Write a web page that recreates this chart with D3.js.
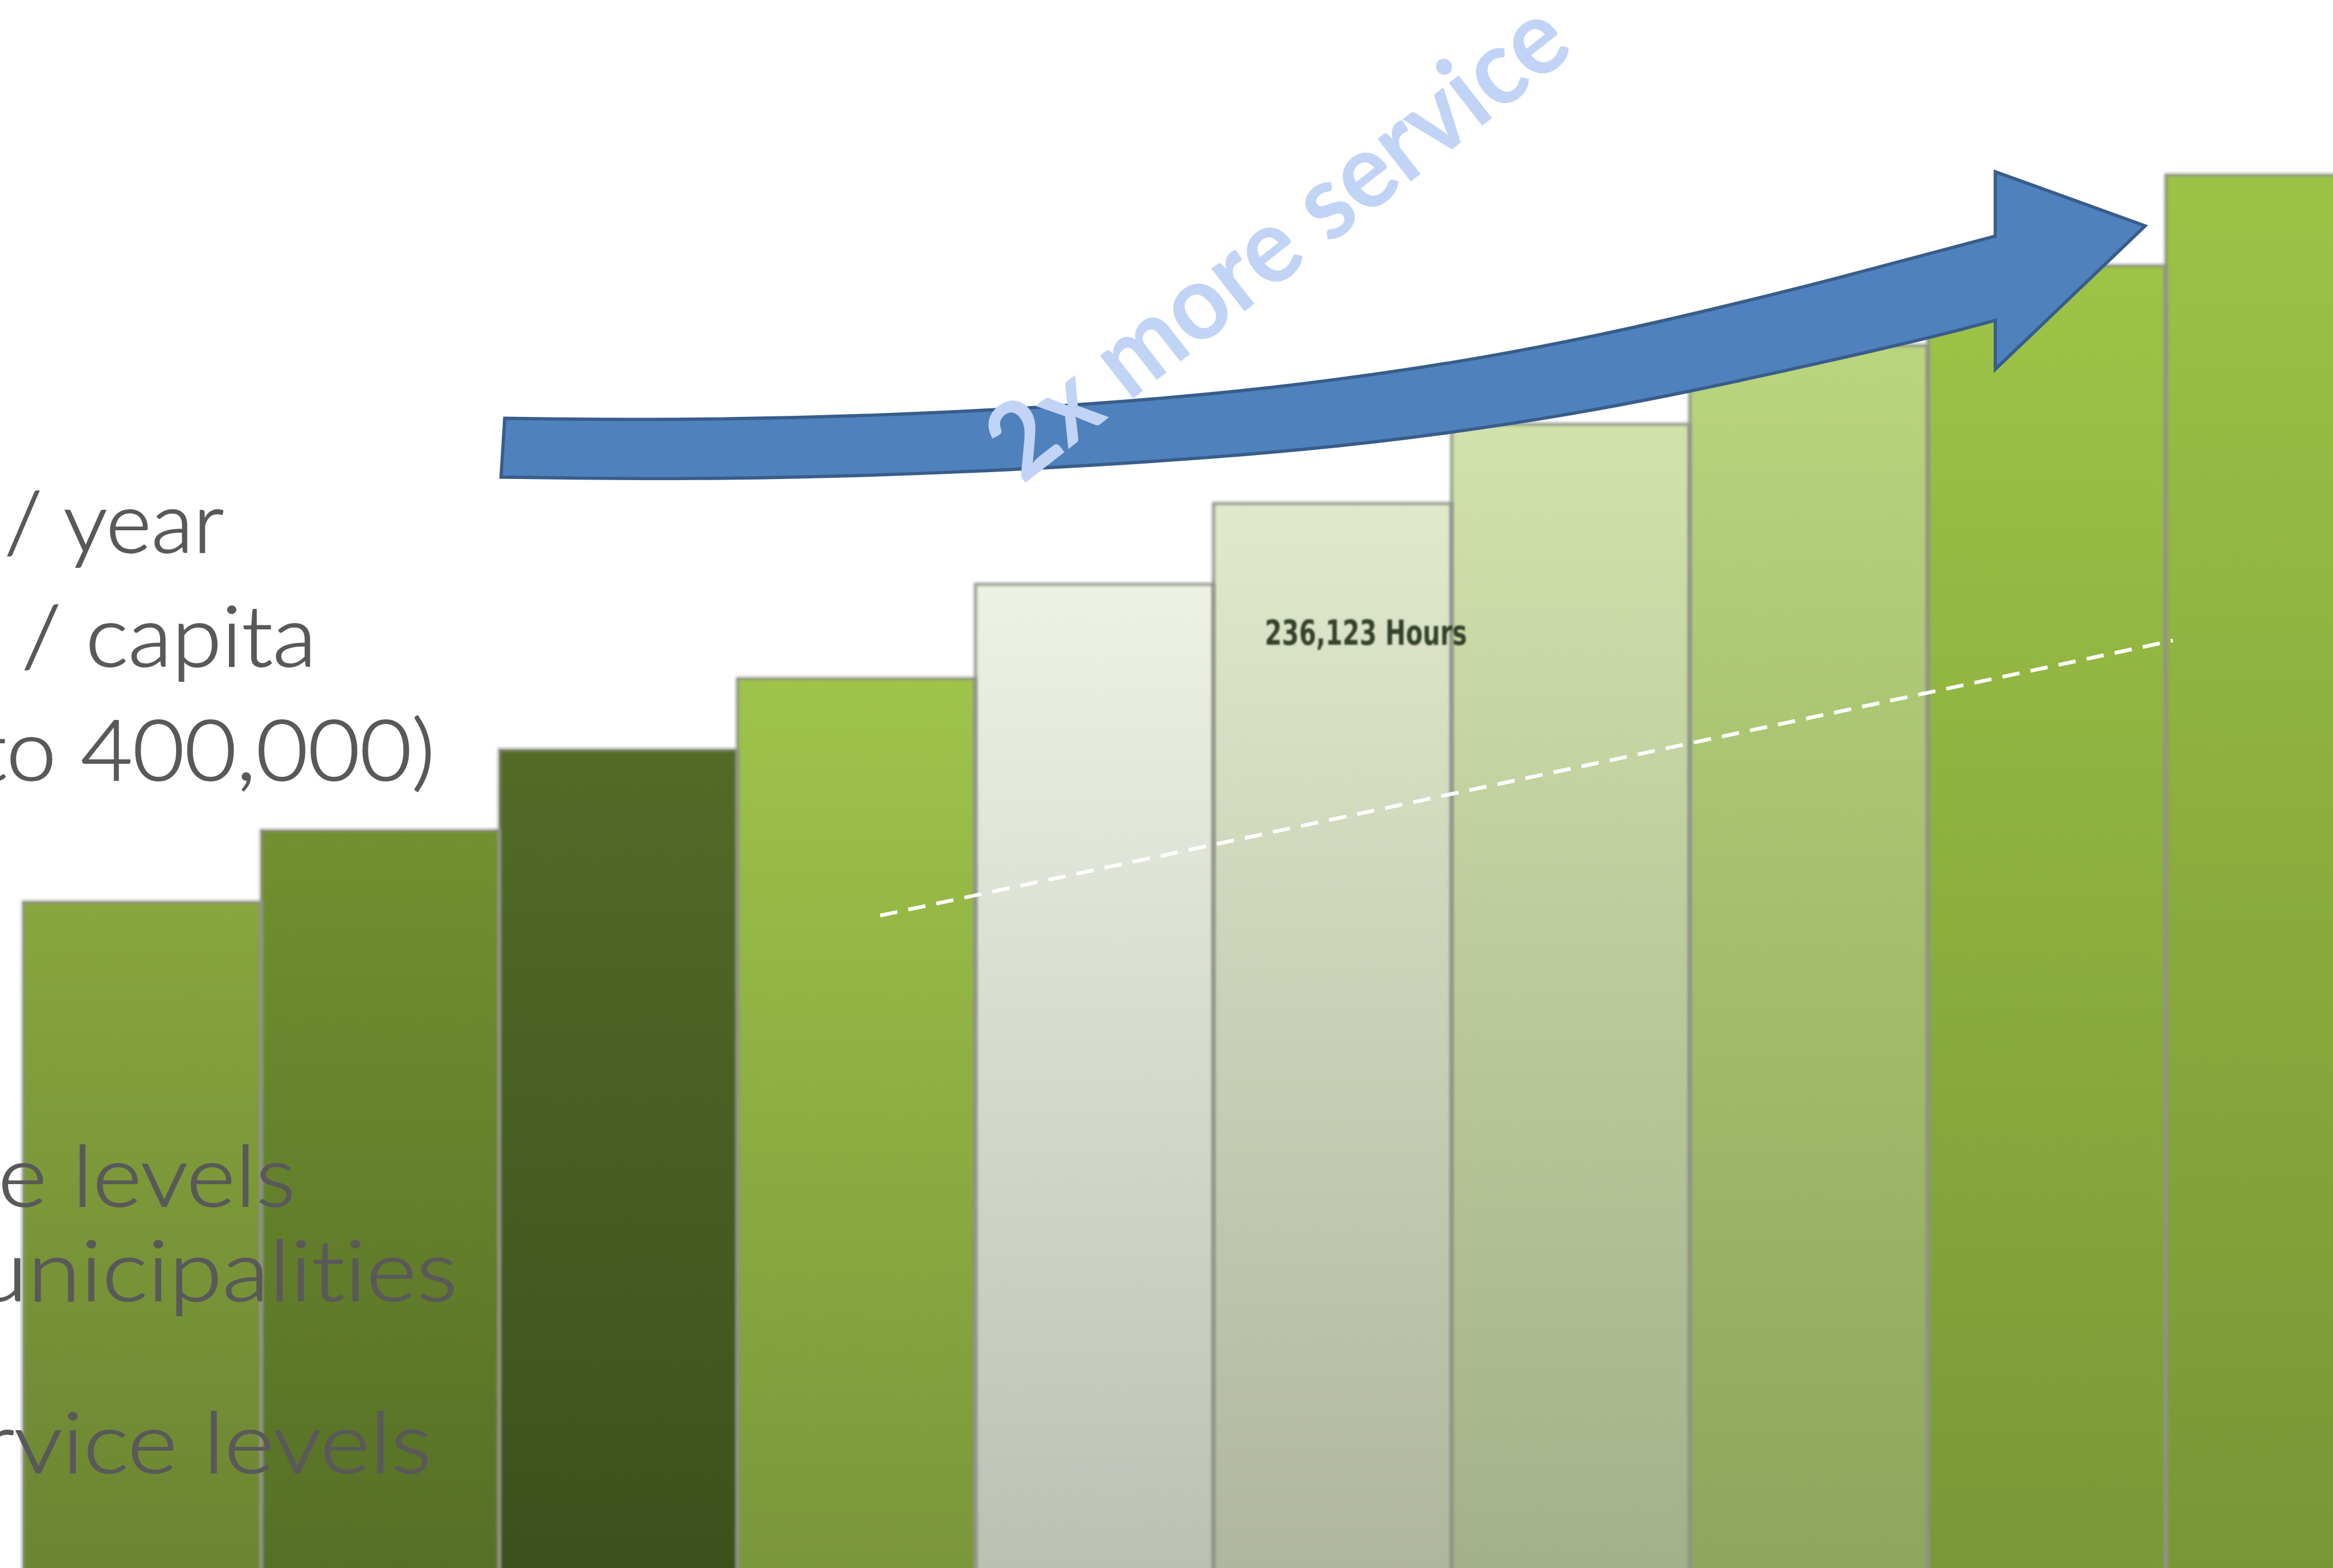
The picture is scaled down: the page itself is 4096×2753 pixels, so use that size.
<!DOCTYPE html>
<html>
<head>
<meta charset="utf-8">
<script src="https://cdn.jsdelivr.net/npm/d3@7"></script>
<style>
  html, body { margin: 0; padding: 0; background: #ffffff; overflow: hidden; }
  svg { display: block; }
  text { font-variant-ligatures: none; font-feature-settings: "liga" 0, "clig" 0; }
</style>
</head>
<body>
<svg id="chart"></svg>
<script>
// ---------------- DATA ----------------
const categories = ["P1", "P2", "P3", "P4", "P5", "P6", "P7", "P8", "P9", "P10"];
const hours = [147700, 163600, 181500, 197300, 218200, 236123, 253700, 271200, 288900, 309000];
const labelIndex = 5;
const labelText = "236,123 Hours";
// dashed trend line (index position along the bars, value)
const trendIndex = [3.6, 9.03];
const trendValue = [144700, 205700];
const textTop = ["/ year", "/ capita", "to 400,000)"];
const textBottom = ["e levels", "unicipalities", "rvice levels"];
const arrowText = "2x more service";

// ---------------- STYLE ----------------
const topColors = ["#88a63e", "#72902f", "#536a27", "#9fc44a", "#eef2e6", "#e1e9cd", "#d2e2ab", "#b9d57d", "#9dc446", "#9cc346"];
const bottomColors = ["#6b8431", "#566f27", "#3d501c", "#7a963a", "#bbc0b5", "#b0b69c", "#a3b08a", "#8ea55d", "#799837", "#789636"];

const W = 5043, H = 3389;
const svg = d3.select("#chart")
  .attr("width", 4096).attr("height", 2753)
  .attr("viewBox", `0 0 ${W} ${H}`);

const defs = svg.append("defs");
const blur = defs.append("filter").attr("id", "soft").attr("x", "-5%").attr("y", "-5%").attr("width", "110%").attr("height", "110%");
blur.append("feGaussianBlur").attr("stdDeviation", 3);
const blur2 = defs.append("filter").attr("id", "softText");
blur2.append("feGaussianBlur").attr("stdDeviation", 1.8);

categories.forEach((c, i) => {
  const g = defs.append("linearGradient").attr("id", "grad" + i)
    .attr("x1", 0).attr("y1", 0).attr("x2", 0).attr("y2", 1);
  g.append("stop").attr("offset", "0%").attr("stop-color", topColors[i]);
  g.append("stop").attr("offset", "100%").attr("stop-color", bottomColors[i]);
});

// ---------------- SCALES ----------------
const step = 514.6;
const x = d3.scaleBand().domain(categories).range([50, 50 + step * categories.length]).padding(0);
const xi = d3.scaleLinear().domain([0, categories.length]).range(x.range());
const y = d3.scaleLinear().domain([0, 300000]).range([H, H - 300000 / 102.617]);

// ---------------- BARS ----------------
const bars = svg.append("g");
bars.selectAll("rect.bar").data(hours).join("rect").attr("class", "bar")
  .attr("x", (d, i) => x(categories[i]))
  .attr("y", d => y(d))
  .attr("width", x.bandwidth())
  .attr("height", d => y(0) - y(d) + 20)
  .attr("fill", (d, i) => `url(#grad${i})`);

bars.selectAll("rect.edge").data(hours).join("rect").attr("class", "edge")
  .attr("x", (d, i) => x(categories[i]))
  .attr("y", d => y(d))
  .attr("width", x.bandwidth())
  .attr("height", d => y(0) - y(d) + 20)
  .attr("fill", "none")
  .attr("stroke", "#8f9288")
  .attr("stroke-width", 6)
  .attr("filter", "url(#soft)");

// value label
svg.append("text")
  .attr("x", x(categories[labelIndex]) + 111)
  .attr("y", y(hours[labelIndex]) + 305)
  .attr("font-family", "'Liberation Sans Narrow', 'DejaVu Sans Condensed', 'Liberation Sans', sans-serif")
  .attr("font-size", 74)
  .attr("font-weight", 700)
  .attr("textLength", 437)
  .attr("lengthAdjust", "spacingAndGlyphs")
  .attr("fill", "#36422c")
  .attr("filter", "url(#softText)")
  .text(labelText);

// dashed trend line
svg.append("path")
  .datum(trendIndex.map((t, i) => [t, trendValue[i]]))
  .attr("d", d3.line().x(d => xi(d[0])).y(d => y(d[1])))
  .attr("fill", "none")
  .attr("stroke", "#ffffff")
  .attr("stroke-width", 8)
  .attr("stroke-dasharray", "38 24");

// ---------------- LEFT TEXT ----------------
const leftFont = "Lato, 'Open Sans', sans-serif";
const topLayout = [{x: 10, yb: 1194, w: 474}, {x: 47, yb: 1440, w: 637}, {x: -52, yb: 1686, w: 992}];
const botLayout = [{x: -4, yb: 2608, w: 643}, {x: -55, yb: 2812, w: 1044}, {x: -42, yb: 3184, w: 975}];
const leftG = svg.append("g")
  .attr("font-family", leftFont)
  .attr("font-weight", 300)
  .attr("font-size", 182)
  .attr("fill", "#595959")
  .attr("stroke", "#595959")
  .attr("stroke-width", 2.5);
textTop.concat(textBottom).forEach((t, i) => {
  const L = topLayout.concat(botLayout)[i];
  leftG.append("text")
    .attr("x", L.x).attr("y", L.yb)
    .attr("textLength", L.w)
    .attr("lengthAdjust", "spacingAndGlyphs")
    .text(t);
});

// ---------------- ARROW (annotation shape, reference pixel frame) ----------------
const arrowTopEdge = [[1091, 904], [1478, 909], [2050, 895], [2700, 850], [3232, 772], [3600, 694], [3968, 603], [4313, 510]];
const arrowBottomEdge = [[1083, 1031], [1478, 1037], [2050, 1025], [2754, 982], [3135, 936], [3400, 895], [3655, 846], [3968, 777], [4200, 723], [4313, 692]];
const arrowHead = [[4313, 510], [4313, 371], [4637, 488], [4313, 798], [4313, 692]];
const edge = d3.line().curve(d3.curveBasis);
const topD = edge(arrowTopEdge);
const botD = edge(arrowBottomEdge.slice().reverse());
const headD = arrowHead.map(p => "L" + p[0] + "," + p[1]).join("");
svg.append("path")
  .attr("d", topD + headD + botD.replace(/^M/, "L") + "Z")
  .attr("fill", "#4f81bd")
  .attr("stroke", "#385d8a")
  .attr("stroke-width", 7)
  .attr("stroke-linejoin", "miter");

svg.append("text")
  .attr("transform", "translate(2210,1048) rotate(-38)")
  .attr("font-family", "Lato, 'Open Sans', sans-serif")
  .attr("font-weight", 700)
  .attr("font-size", 228)
  .attr("textLength", 1520)
  .attr("lengthAdjust", "spacingAndGlyphs")
  .attr("fill", "#c1d4f6")
  .text(arrowText);
</script>
</body>
</html>
